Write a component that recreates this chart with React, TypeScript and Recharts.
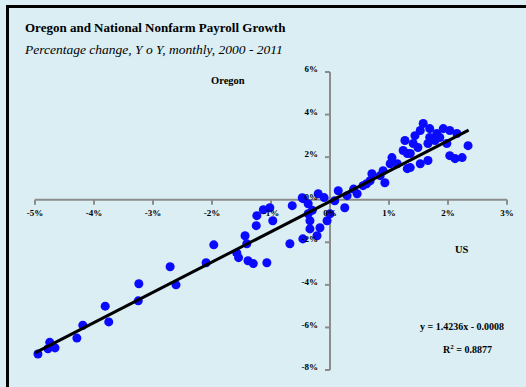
import React from 'react';
import {
  ScatterChart,
  Scatter,
  XAxis,
  YAxis,
  ZAxis,
  ReferenceLine,
  ReferenceDot,
} from 'recharts';

// ── data (percent, y/y monthly) ──────────────────────────────────────
const usGrowth = [
  -4.95, -4.75, -4.78, -4.66, -4.29, -4.19, -3.81, -3.75, -3.24, -3.25, -2.71, -2.61, -2.1, -1.97,
  -1.58, -1.55, -1.41, -1.44, -1.39, -1.3, -1.07, -1.25, -1.24, -1.13, -1.02, -0.97,
  -0.68, -0.46, -0.64, -0.46, -0.37, -0.2, -0.34, -0.34, -0.17, -0.05, 0.0, 0.14, 0.29, -0.22,
  -0.37, 0.08, 0.25, -0.1, -0.47, -0.3,
  0.46, 0.56, 0.71, 0.85, 0.93, 0.68, 0.9, 1.05, 1.14, 1.02, 1.31, 1.36, 1.24, 1.31, 1.27, 1.41,
  1.44, 1.58, 1.53, 1.69, 1.81, 1.66, 1.78, 1.92, 2.03, 2.15, 1.98, 1.53, 1.66, 2.03, 2.12, 2.24,
  2.34, 1.36, 1.49, 1.69, 1.86, 0.4, 0.62,
];
const oregonGrowth = [
  -7.25, -6.7, -7.0, -6.96, -6.5, -5.9, -5.0, -5.74, -3.95, -4.75, -3.15, -4.0, -2.96, -2.12,
  -2.5, -2.72, -2.07, -1.69, -2.87, -3.0, -2.96, -1.22, -0.75, -0.47, -0.38, -0.99,
  -2.07, -1.84, -0.28, 0.05, -0.19, 0.28, -0.99, -1.37, -1.32, -0.99, -0.66, 0.42, 0.19, -1.69,
  -0.66, -0.05, -0.38, 0.1, 0.09, -0.5,
  0.28, 0.66, 1.22, 1.13, 0.8, 0.89, 1.36, 1.98, 1.69, 1.69, 1.46, 1.51, 2.31, 2.17, 2.78, 2.64,
  3.01, 3.58, 3.25, 3.34, 3.11, 2.64, 2.78, 3.34, 3.25, 3.11, 2.64, 1.69, 1.84, 2.07, 1.93, 1.98,
  2.54, 2.17, 2.45, 2.92, 2.92, 0.5, 0.75,
];
const xTicks = [-5, -4, -3, -2, -1, 0, 1, 2, 3];
const yTicks = [6, 4, 2, 0, -2, -4, -6, -8];

const trendSlope = 1.4236;
const trendIntercept = -0.08;
const trendRange = [-5, 2.35];

const points = usGrowth.map((x, i) => ({ x, y: oregonGrowth[i] }));
const trend = trendRange.map((x) => ({ x, y: trendSlope * x + trendIntercept }));

const SERIF = '"Liberation Serif", "DejaVu Serif", serif';
const BG = '#daeef3';
const AXIS = '#8c8c8c';

const tickFont = { fontSize: 9, fontWeight: 'bold', fill: '#000', fontFamily: SERIF };

export default function App() {
  return (
    <div
      style={{
        position: 'fixed',
        left: 0,
        top: 0,
        width: 526,
        height: 387,
        background: BG,
        overflow: 'hidden',
        fontFamily: SERIF,
      }}
    >
      {/* frame: top and left edges only */}
      <div
        style={{
          position: 'absolute',
          left: 6,
          top: 5,
          right: -10,
          bottom: -10,
          borderTop: '3px solid #000',
          borderLeft: '3px solid #000',
        }}
      />
      <div style={{ position: 'absolute', left: 25, top: 20, fontSize: 13, fontWeight: 'bold', whiteSpace: 'nowrap' }}>
        Oregon and National Nonfarm Payroll Growth
      </div>
      <div style={{ position: 'absolute', left: 25, top: 42, fontSize: 13.5, fontStyle: 'italic', whiteSpace: 'nowrap' }}>
        Percentage change, Y o Y, monthly, 2000 - 2011
      </div>
      <div style={{ position: 'absolute', left: 211, top: 75, fontSize: 10.5, fontWeight: 'bold' }}>Oregon</div>
      <div style={{ position: 'absolute', left: 455, top: 244, fontSize: 10.5, fontWeight: 'bold' }}>US</div>
      <div style={{ position: 'absolute', left: 420, top: 321, fontSize: 10, fontWeight: 'bold', whiteSpace: 'nowrap' }}>
        y = 1.4236x - 0.0008
      </div>
      <div style={{ position: 'absolute', left: 443, top: 343, fontSize: 10, fontWeight: 'bold', whiteSpace: 'nowrap' }}>
        R<sup style={{ fontSize: 7 }}>2</sup> = 0.8877
      </div>

      <div style={{ position: 'absolute', left: 0, top: 0 }}>
        <ScatterChart width={526} height={387} margin={{ top: 72, right: 19, bottom: 17, left: 35 }}>
          <XAxis type="number" dataKey="x" domain={[-5, 3]} ticks={xTicks} hide />
          <YAxis type="number" dataKey="y" domain={[-8, 6]} ticks={yTicks} hide />
          <ZAxis range={[70, 70]} />

          {/* axes crossing at the origin */}
          <ReferenceLine y={0} stroke={AXIS} strokeWidth={2} />
          <ReferenceLine x={0} stroke={AXIS} strokeWidth={2} />
          {xTicks.map((t) => (
            <ReferenceLine
              key={`xt${t}`}
              segment={[{ x: t, y: 0 }, { x: t, y: -0.24 }]}
              stroke={AXIS}
              strokeWidth={2}
            />
          ))}
          {yTicks.map((t) => (
            <ReferenceLine
              key={`yt${t}`}
              segment={[{ x: 0, y: t }, { x: -0.085, y: t }]}
              stroke={AXIS}
              strokeWidth={2}
            />
          ))}
          {xTicks.map((t) => (
            <ReferenceDot
              key={`xl${t}`}
              x={t}
              y={0}
              r={0}
              fill="none"
              stroke="none"
              label={{ value: `${t}%`, position: 'bottom', offset: 10, ...tickFont }}
            />
          ))}
          {yTicks.map((t) => (
            <ReferenceDot
              key={`yl${t}`}
              x={0}
              y={t}
              r={0}
              fill="none"
              stroke="none"
              label={{ value: `${t}%`, position: 'left', offset: 12, dy: -3, ...tickFont }}
            />
          ))}

          <Scatter data={points} fill="#0a0aff" shape="circle" isAnimationActive={false} />
          <Scatter
            data={trend}
            line={{ stroke: '#000', strokeWidth: 3 }}
            shape={() => <g />}
            isAnimationActive={false}
          />
        </ScatterChart>
      </div>
    </div>
  );
}
